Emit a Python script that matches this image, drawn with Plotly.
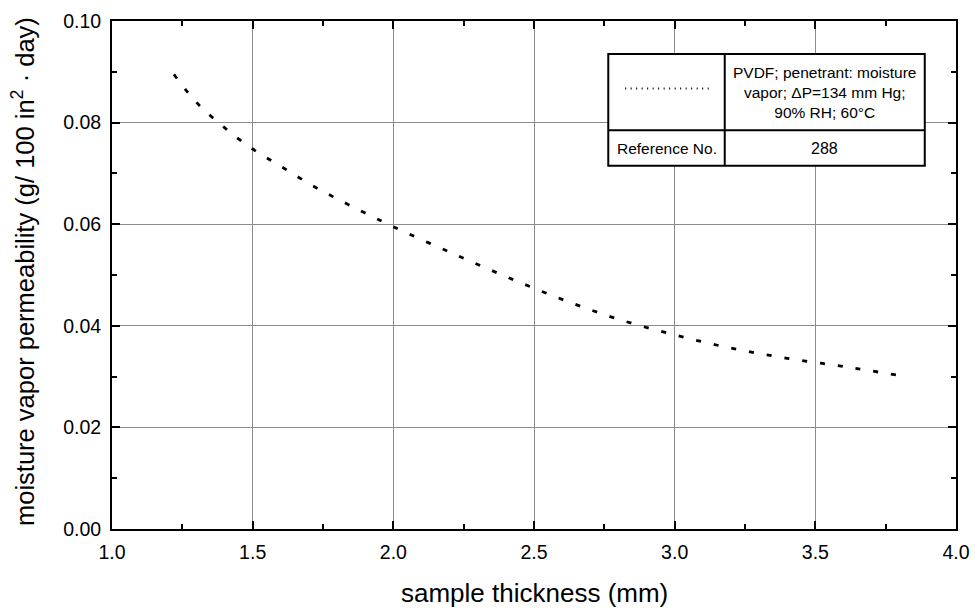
import plotly.graph_objects as go

thickness = [1.22, 1.3, 1.4, 1.5, 1.6, 1.7, 1.8, 1.9, 2.0, 2.2, 2.4, 2.6, 2.8, 3.0, 3.2, 3.4, 3.6, 3.8]
permeability = [0.0895, 0.0840, 0.0790, 0.0748, 0.0714, 0.0680, 0.0650, 0.0622, 0.0595,
                0.0545, 0.0497, 0.0452, 0.0413, 0.0382, 0.0356, 0.0336, 0.0320, 0.0302]

legend_label = "PVDF; penetrant: moisture<br>vapor; ΔP=134 mm Hg;<br>90% RH; 60°C"
reference_no = "288"
x_title = "sample thickness (mm)"
y_title = "moisture vapor permeability (g/ 100 in<sup>2</sup> · day)"

FONT = "Liberation Sans, Arial, sans-serif"

fig = go.Figure()
fig.add_trace(go.Scatter(
    x=thickness, y=permeability, mode="lines",
    line=dict(color="black", width=2.8, dash="5px,13px", shape="spline"),
    showlegend=False, hoverinfo="skip"))

axis_common = dict(
    showline=True, linecolor="black", linewidth=2, mirror="allticks",
    ticks="inside", ticklen=8, tickwidth=1.5, tickcolor="black",
    showgrid=True, gridcolor="#8c8c8c", gridwidth=1, zeroline=False,
    tickfont=dict(family=FONT, size=19.5, color="black"),
    automargin=False,
)

fig.update_xaxes(range=[1.0, 4.0], dtick=0.5, tickformat=".1f", ticklabelstandoff=5,
                 minor=dict(ticks="inside", ticklen=5, dtick=0.25, tickcolor="black", showgrid=False),
                 **axis_common)
fig.update_yaxes(range=[0.0, 0.10], dtick=0.02, tickformat=".2f", ticklabelstandoff=5,
                 minor=dict(ticks="inside", ticklen=5, dtick=0.01, tickcolor="black", showgrid=False),
                 **axis_common)

# legend table
x0, x1, xm = 0.588, 0.963, 0.726
y0, y1, ym = 0.715, 0.935, 0.785
shapes = [
    dict(type="rect", xref="paper", yref="paper", x0=x0, x1=x1, y0=y0, y1=y1,
         line=dict(color="black", width=2), fillcolor="white", layer="above"),
    dict(type="line", xref="paper", yref="paper", x0=x0, x1=x1, y0=ym, y1=ym,
         line=dict(color="black", width=2), layer="above"),
    dict(type="line", xref="paper", yref="paper", x0=xm, x1=xm, y0=y0, y1=y1,
         line=dict(color="black", width=2), layer="above"),
    dict(type="line", xref="paper", yref="paper", x0=0.608, x1=0.710, y0=0.867, y1=0.867,
         line=dict(color="black", width=2, dash="1px,4.5px"), layer="above"),
]
annotations = [
    dict(xref="paper", yref="paper", x=(xm + x1) / 2, y=(ym + y1) / 2, text=legend_label,
         showarrow=False, align="center", xanchor="center", yanchor="middle", valign="middle",
         font=dict(family=FONT, size=15.5, color="black")),
    dict(xref="paper", yref="paper", x=(x0 + xm) / 2, y=(y0 + ym) / 2, text="Reference No.",
         showarrow=False, xanchor="center", yanchor="middle",
         font=dict(family=FONT, size=15.5, color="black")),
    dict(xref="paper", yref="paper", x=(xm + x1) / 2, y=(y0 + ym) / 2, text=reference_no,
         showarrow=False, xanchor="center", yanchor="middle",
         font=dict(family=FONT, size=16, color="black")),
    # axis titles
    dict(xref="paper", yref="paper", x=0.5, y=0, text=x_title, showarrow=False,
         xanchor="center", yanchor="middle", yshift=-64,
         font=dict(family=FONT, size=26, color="black")),
    dict(xref="paper", yref="paper", x=0, y=0.5, text=y_title, showarrow=False,
         textangle=-90, xanchor="center", yanchor="middle", xshift=-89, yshift=3,
         font=dict(family=FONT, size=25.5, color="black")),
]

fig.update_layout(
    width=975, height=608,
    margin=dict(l=112, r=19, t=21, b=79),
    paper_bgcolor="white", plot_bgcolor="white",
    shapes=shapes, annotations=annotations,
    font=dict(family=FONT, color="black"),
)

fig.write_html("out.html", config={"displayModeBar": False},
               post_script="document.body.style.margin='0';document.body.style.overflow='hidden';")
